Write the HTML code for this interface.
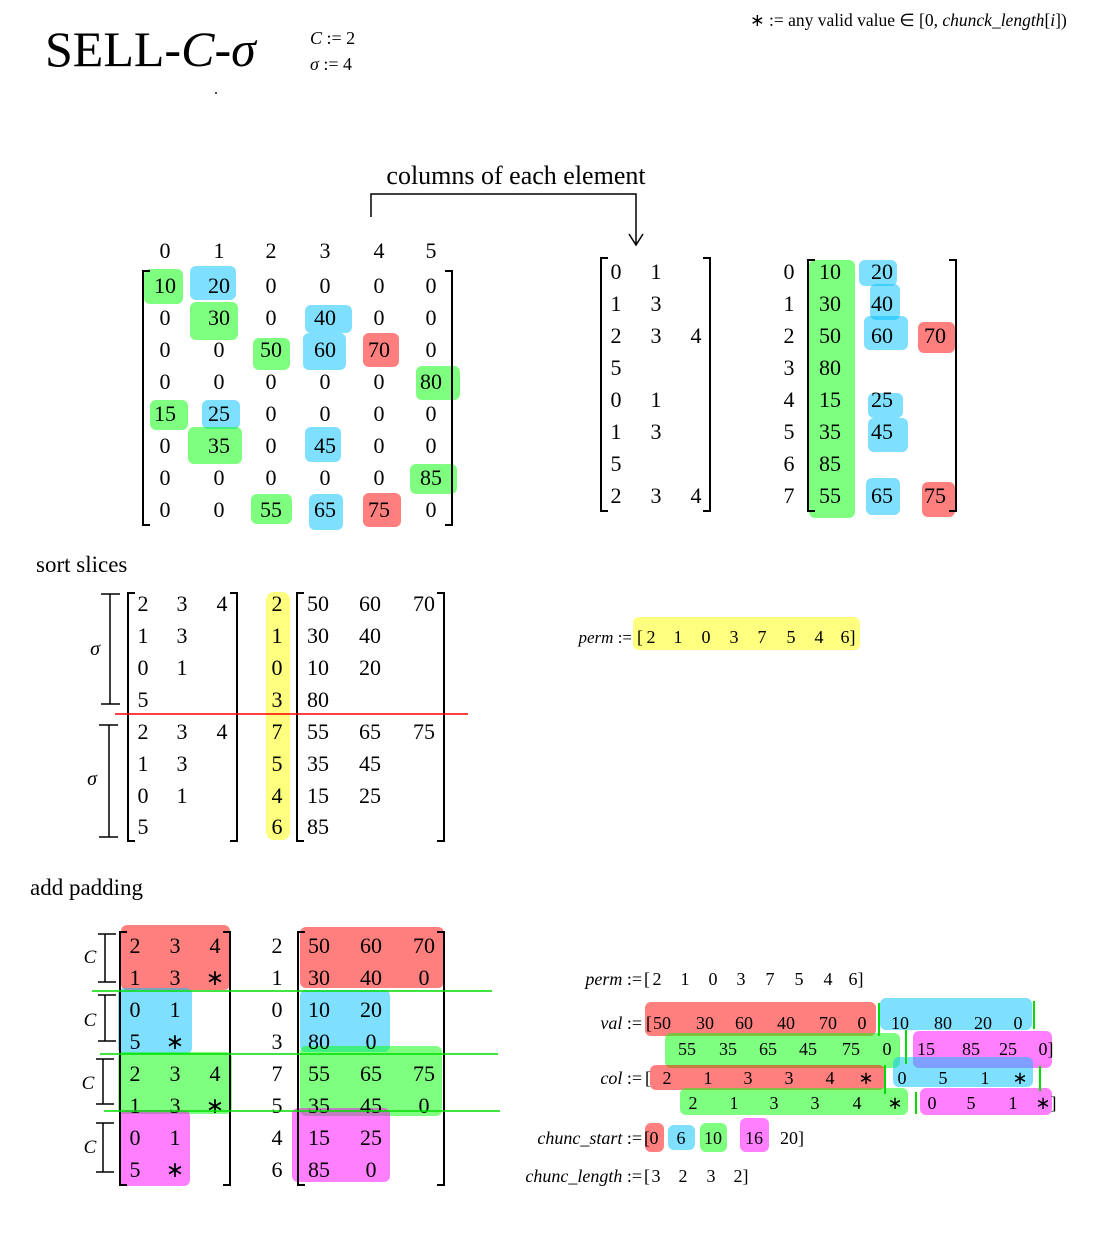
<!DOCTYPE html>
<html><head><meta charset="utf-8"><style>
html,body{margin:0;padding:0;background:#fff}
svg{display:block}
text{font-family:"Liberation Serif",serif;fill:#000}
.m{font-size:22px;text-anchor:middle}
.s{font-size:18px;text-anchor:middle}
.i{font-style:italic}
.br{fill:none;stroke:#000;stroke-width:2}
.R{fill:#ff0000;fill-opacity:.5}
.B{fill:#00bfff;fill-opacity:.5}
.G{fill:#00ff00;fill-opacity:.5}
.M{fill:#ff00ff;fill-opacity:.5}
.Y{fill:#ffff00;fill-opacity:.5}
.gl{stroke:#00dd00;stroke-width:1.5}
</style></head><body>
<svg width="1102" height="1257" viewBox="0 0 1102 1257" xmlns="http://www.w3.org/2000/svg">
<text x="45" y="66" style="font-size:50px">SELL-<tspan font-style="italic">C</tspan>-<tspan font-style="italic">σ</tspan></text>
<text x="310" y="44" style="font-size:18px"><tspan font-style="italic">C</tspan> := 2</text>
<text x="310" y="70" style="font-size:18px"><tspan font-style="italic">σ</tspan> := 4</text>
<text x="214" y="94" style="font-size:16px">.</text>
<text x="750" y="26" style="font-size:17.5px">∗ := any valid value ∈ [0, <tspan font-style="italic">chunck</tspan>_<tspan font-style="italic">length</tspan>[<tspan font-style="italic">i</tspan>])</text>

<text x="516" y="184" style="font-size:26px;text-anchor:middle">columns of each element</text>
<path d="M371 217 V194 H636 V244" fill="none" stroke="#000" stroke-width="1.5"/>
<path d="M629 234 L636 245 L643 234" fill="none" stroke="#000" stroke-width="1.5"/>

<rect class="G" x="144" y="269" width="39" height="35" rx="6"/>
<rect class="B" x="190" y="266" width="46" height="34" rx="6"/>
<rect class="G" x="190" y="302" width="48" height="38" rx="6"/>
<rect class="B" x="305" y="305" width="47" height="28" rx="6"/>
<rect class="G" x="253" y="338" width="37" height="32" rx="6"/>
<rect class="B" x="303" y="333" width="43" height="37" rx="6"/>
<rect class="R" x="363" y="333" width="36" height="34" rx="6"/>
<rect class="G" x="416" y="366" width="44" height="34" rx="6"/>
<rect class="G" x="150" y="400" width="38" height="30" rx="6"/>
<rect class="B" x="202" y="400" width="38" height="29" rx="6"/>
<rect class="G" x="188" y="427" width="54" height="37" rx="6"/>
<rect class="B" x="305" y="427" width="36" height="35" rx="6"/>
<rect class="G" x="410" y="464" width="47" height="30" rx="6"/>
<rect class="G" x="251" y="494" width="41" height="30" rx="6"/>
<rect class="B" x="309" y="494" width="34" height="36" rx="6"/>
<rect class="R" x="363" y="493" width="38" height="34" rx="6"/>
<g class="m">
<text x="165" y="258">0</text><text x="219" y="258">1</text><text x="271" y="258">2</text><text x="325" y="258">3</text><text x="379" y="258">4</text><text x="431" y="258">5</text>
<text x="165" y="293">10</text><text x="219" y="293">20</text><text x="271" y="293">0</text><text x="325" y="293">0</text><text x="379" y="293">0</text><text x="431" y="293">0</text>
<text x="165" y="325">0</text><text x="219" y="325">30</text><text x="271" y="325">0</text><text x="325" y="325">40</text><text x="379" y="325">0</text><text x="431" y="325">0</text>
<text x="165" y="357">0</text><text x="219" y="357">0</text><text x="271" y="357">50</text><text x="325" y="357">60</text><text x="379" y="357">70</text><text x="431" y="357">0</text>
<text x="165" y="389">0</text><text x="219" y="389">0</text><text x="271" y="389">0</text><text x="325" y="389">0</text><text x="379" y="389">0</text><text x="431" y="389">80</text>
<text x="165" y="421">15</text><text x="219" y="421">25</text><text x="271" y="421">0</text><text x="325" y="421">0</text><text x="379" y="421">0</text><text x="431" y="421">0</text>
<text x="165" y="453">0</text><text x="219" y="453">35</text><text x="271" y="453">0</text><text x="325" y="453">45</text><text x="379" y="453">0</text><text x="431" y="453">0</text>
<text x="165" y="485">0</text><text x="219" y="485">0</text><text x="271" y="485">0</text><text x="325" y="485">0</text><text x="379" y="485">0</text><text x="431" y="485">85</text>
<text x="165" y="517">0</text><text x="219" y="517">0</text><text x="271" y="517">55</text><text x="325" y="517">65</text><text x="379" y="517">75</text><text x="431" y="517">0</text>
</g>
<path class="br" d="M150 271 H143 V525 H150"/>
<path class="br" d="M445 271 H452 V525 H445"/>

<g class="m">
<text x="616" y="279">0</text><text x="656" y="279">1</text>
<text x="616" y="311">1</text><text x="656" y="311">3</text>
<text x="616" y="343">2</text><text x="656" y="343">3</text><text x="696" y="343">4</text>
<text x="616" y="375">5</text>
<text x="616" y="407">0</text><text x="656" y="407">1</text>
<text x="616" y="439">1</text><text x="656" y="439">3</text>
<text x="616" y="471">5</text>
<text x="616" y="503">2</text><text x="656" y="503">3</text><text x="696" y="503">4</text>
</g>
<path class="br" d="M608 258 H601 V511 H608"/>
<path class="br" d="M703 258 H710 V511 H703"/>

<rect class="G" x="809" y="260" width="46" height="258" rx="6"/>
<rect class="B" x="859" y="260" width="38" height="26" rx="6"/>
<rect class="B" x="870" y="284" width="30" height="36" rx="6"/>
<rect class="B" x="864" y="316" width="44" height="34" rx="6"/>
<rect class="R" x="918" y="322" width="37" height="31" rx="6"/>
<rect class="B" x="868" y="393" width="35" height="25" rx="6"/>
<rect class="B" x="868" y="418" width="40" height="34" rx="6"/>
<rect class="B" x="866" y="478" width="34" height="37" rx="6"/>
<rect class="R" x="922" y="482" width="33" height="35" rx="6"/>
<g class="m">
<text x="789" y="279">0</text><text x="789" y="311">1</text><text x="789" y="343">2</text><text x="789" y="375">3</text>
<text x="789" y="407">4</text><text x="789" y="439">5</text><text x="789" y="471">6</text><text x="789" y="503">7</text>
<text x="830" y="279">10</text><text x="882" y="279">20</text>
<text x="830" y="311">30</text><text x="882" y="311">40</text>
<text x="830" y="343">50</text><text x="882" y="343">60</text><text x="935" y="343">70</text>
<text x="830" y="375">80</text>
<text x="830" y="407">15</text><text x="882" y="407">25</text>
<text x="830" y="439">35</text><text x="882" y="439">45</text>
<text x="830" y="471">85</text>
<text x="830" y="503">55</text><text x="882" y="503">65</text><text x="935" y="503">75</text>
</g>
<path class="br" d="M815 260 H808 V511 H815"/>
<path class="br" d="M949 260 H956 V511 H949"/>

<text x="36" y="572" style="font-size:23px">sort slices</text>
<rect class="Y" x="266" y="592" width="24" height="248" rx="8"/>
<g class="m">
<text x="143" y="611">2</text><text x="182" y="611">3</text><text x="222" y="611">4</text>
<text x="143" y="643">1</text><text x="182" y="643">3</text>
<text x="143" y="675">0</text><text x="182" y="675">1</text>
<text x="143" y="707">5</text>
<text x="143" y="739">2</text><text x="182" y="739">3</text><text x="222" y="739">4</text>
<text x="143" y="771">1</text><text x="182" y="771">3</text>
<text x="143" y="803">0</text><text x="182" y="803">1</text>
<text x="143" y="834">5</text>
<text x="277" y="611">2</text><text x="277" y="643">1</text><text x="277" y="675">0</text><text x="277" y="707">3</text>
<text x="277" y="739">7</text><text x="277" y="771">5</text><text x="277" y="803">4</text><text x="277" y="834">6</text>
<text x="318" y="611">50</text><text x="370" y="611">60</text><text x="424" y="611">70</text>
<text x="318" y="643">30</text><text x="370" y="643">40</text>
<text x="318" y="675">10</text><text x="370" y="675">20</text>
<text x="318" y="707">80</text>
<text x="318" y="739">55</text><text x="370" y="739">65</text><text x="424" y="739">75</text>
<text x="318" y="771">35</text><text x="370" y="771">45</text>
<text x="318" y="803">15</text><text x="370" y="803">25</text>
<text x="318" y="834">85</text>
</g>
<path class="br" d="M135 593 H128 V841 H135"/>
<path class="br" d="M230 593 H237 V841 H230"/>
<path class="br" d="M304 593 H297 V841 H304"/>
<path class="br" d="M437 593 H444 V841 H437"/>
<line x1="115" y1="714" x2="468" y2="714" stroke="#ff0000" stroke-width="1.5"/>
<path d="M101 594 H120 M110 594 V704 M101 704 H120" fill="none" stroke="#000" stroke-width="1.5"/>
<path d="M99 725 H118 M109 725 V837 M99 837 H118" fill="none" stroke="#000" stroke-width="1.5"/>
<text x="95" y="655" class="m i" style="font-size:20px">σ</text>
<text x="92" y="785" class="m i" style="font-size:20px">σ</text>

<rect class="Y" x="633" y="617" width="227" height="33" rx="6"/>
<text x="632" y="643" style="font-size:17px;text-anchor:end"><tspan font-style="italic">perm</tspan> :=</text>
<g class="s"><text x="640" y="643">[</text><text x="651" y="643">2</text><text x="678" y="643">1</text><text x="706" y="643">0</text><text x="734" y="643">3</text><text x="762" y="643">7</text><text x="791" y="643">5</text><text x="819" y="643">4</text><text x="848" y="643">6]</text></g>

<text x="30" y="895" style="font-size:23px">add padding</text>
<rect class="R" x="121" y="925" width="109" height="65" rx="6"/>
<rect class="B" x="118" y="988" width="74" height="66" rx="6"/>
<rect class="G" x="118" y="1052" width="114" height="62" rx="6"/>
<rect class="M" x="120" y="1110" width="70" height="76" rx="6"/>
<rect class="R" x="300" y="927" width="144" height="61" rx="6"/>
<rect class="B" x="300" y="990" width="90" height="62" rx="6"/>
<rect class="G" x="300" y="1046" width="142" height="70" rx="6"/>
<rect class="M" x="292" y="1108" width="98" height="74" rx="6"/>
<g class="m">
<text x="135" y="953">2</text><text x="175" y="953">3</text><text x="215" y="953">4</text>
<text x="135" y="985">1</text><text x="175" y="985">3</text><text x="215" y="985">∗</text>
<text x="135" y="1017">0</text><text x="175" y="1017">1</text>
<text x="135" y="1049">5</text><text x="175" y="1049">∗</text>
<text x="135" y="1081">2</text><text x="175" y="1081">3</text><text x="215" y="1081">4</text>
<text x="135" y="1113">1</text><text x="175" y="1113">3</text><text x="215" y="1113">∗</text>
<text x="135" y="1145">0</text><text x="175" y="1145">1</text>
<text x="135" y="1177">5</text><text x="175" y="1177">∗</text>
<text x="277" y="953">2</text><text x="277" y="985">1</text><text x="277" y="1017">0</text><text x="277" y="1049">3</text>
<text x="277" y="1081">7</text><text x="277" y="1113">5</text><text x="277" y="1145">4</text><text x="277" y="1177">6</text>
<text x="319" y="953">50</text><text x="371" y="953">60</text><text x="424" y="953">70</text>
<text x="319" y="985">30</text><text x="371" y="985">40</text><text x="424" y="985">0</text>
<text x="319" y="1017">10</text><text x="371" y="1017">20</text>
<text x="319" y="1049">80</text><text x="371" y="1049">0</text>
<text x="319" y="1081">55</text><text x="371" y="1081">65</text><text x="424" y="1081">75</text>
<text x="319" y="1113">35</text><text x="371" y="1113">45</text><text x="424" y="1113">0</text>
<text x="319" y="1145">15</text><text x="371" y="1145">25</text>
<text x="319" y="1177">85</text><text x="371" y="1177">0</text>
</g>
<path class="br" d="M127 932 H120 V1185 H127"/>
<path class="br" d="M223 932 H230 V1185 H223"/>
<path class="br" d="M305 932 H298 V1185 H305"/>
<path class="br" d="M437 932 H444 V1185 H437"/>
<line class="gl" x1="92" y1="991" x2="492" y2="991"/>
<line class="gl" x1="100" y1="1054" x2="498" y2="1054"/>
<line class="gl" x1="104" y1="1111" x2="500" y2="1111"/>
<g fill="none" stroke="#000" stroke-width="1.5">
<path d="M98 934 H116 M105 934 V982 M98 982 H116"/>
<path d="M98 995 H116 M105 995 V1041 M98 1041 H116"/>
<path d="M96 1059 H114 M103 1059 V1104 M96 1104 H114"/>
<path d="M96 1123 H114 M103 1123 V1172 M96 1172 H114"/>
</g>
<g class="i" style="font-size:19px;text-anchor:middle">
<text x="90" y="963">C</text><text x="90" y="1026">C</text><text x="88" y="1089">C</text><text x="90" y="1153">C</text>
</g>

<rect class="R" x="645" y="1002" width="231" height="34" rx="6"/>
<rect class="B" x="880" y="998" width="152" height="32" rx="6"/>
<rect class="G" x="665" y="1033" width="235" height="35" rx="6"/>
<rect class="M" x="913" y="1031" width="139" height="37" rx="6"/>
<rect class="R" x="650" y="1065" width="235" height="25" rx="6"/>
<rect class="B" x="893" y="1057" width="140" height="30" rx="6"/>
<rect class="G" x="680" y="1088" width="228" height="27" rx="6"/>
<rect class="M" x="920" y="1088" width="132" height="27" rx="6"/>
<rect class="R" x="645" y="1123" width="19" height="29" rx="6"/>
<rect class="B" x="668" y="1125" width="27" height="25" rx="6"/>
<rect class="G" x="700" y="1123" width="27" height="29" rx="6"/>
<rect class="M" x="740" y="1118" width="29" height="34" rx="6"/>
<g stroke="#00dd00" stroke-width="2">
<line x1="879" y1="1003" x2="879" y2="1036"/><line x1="1034" y1="1001" x2="1034" y2="1029"/>
<line x1="906" y1="1030" x2="906" y2="1064"/><line x1="885" y1="1065" x2="885" y2="1094"/>
<line x1="1040" y1="1066" x2="1040" y2="1091"/><line x1="916" y1="1092" x2="916" y2="1114"/>
</g>
<g style="font-size:18px;text-anchor:end">
<text x="642" y="985"><tspan font-style="italic">perm</tspan> :=</text>
<text x="642" y="1029"><tspan font-style="italic">val</tspan> :=</text>
<text x="642" y="1084"><tspan font-style="italic">col</tspan> :=</text>
<text x="642" y="1144"><tspan font-style="italic">chunc_start</tspan> :=</text>
<text x="642" y="1182"><tspan font-style="italic">chunc_length</tspan> :=</text>
</g>
<g class="s">
<text x="647" y="985">[</text><text x="657" y="985">2</text><text x="685" y="985">1</text><text x="713" y="985">0</text><text x="741" y="985">3</text><text x="770" y="985">7</text><text x="799" y="985">5</text><text x="828" y="985">4</text><text x="856" y="985">6]</text>
<text x="649" y="1029">[</text><text x="662" y="1029">50</text><text x="705" y="1029">30</text><text x="744" y="1029">60</text><text x="786" y="1029">40</text><text x="828" y="1029">70</text><text x="862" y="1029">0</text>
<text x="900" y="1029">10</text><text x="943" y="1029">80</text><text x="983" y="1029">20</text><text x="1018" y="1029">0</text>
<text x="687" y="1055">55</text><text x="728" y="1055">35</text><text x="768" y="1055">65</text><text x="808" y="1055">45</text><text x="851" y="1055">75</text><text x="887" y="1055">0</text>
<text x="926" y="1055">15</text><text x="971" y="1055">85</text><text x="1008" y="1055">25</text><text x="1046" y="1055">0]</text>
<text x="648" y="1084">[</text><text x="667" y="1084">2</text><text x="708" y="1084">1</text><text x="748" y="1084">3</text><text x="789" y="1084">3</text><text x="830" y="1084">4</text><text x="866" y="1084">∗</text>
<text x="902" y="1084">0</text><text x="943" y="1084">5</text><text x="985" y="1084">1</text><text x="1020" y="1084">∗</text>
<text x="693" y="1109">2</text><text x="734" y="1109">1</text><text x="774" y="1109">3</text><text x="815" y="1109">3</text><text x="857" y="1109">4</text><text x="895" y="1109">∗</text>
<text x="932" y="1109">0</text><text x="971" y="1109">5</text><text x="1013" y="1109">1</text><text x="1046" y="1109">∗]</text>
<text x="647" y="1144">[</text><text x="654" y="1144">0</text><text x="681" y="1144">6</text><text x="713" y="1144">10</text><text x="754" y="1144">16</text><text x="792" y="1144">20]</text>
<text x="647" y="1182">[</text><text x="656" y="1182">3</text><text x="683" y="1182">2</text><text x="711" y="1182">3</text><text x="741" y="1182">2]</text>
</g>
</svg>
</body></html>
